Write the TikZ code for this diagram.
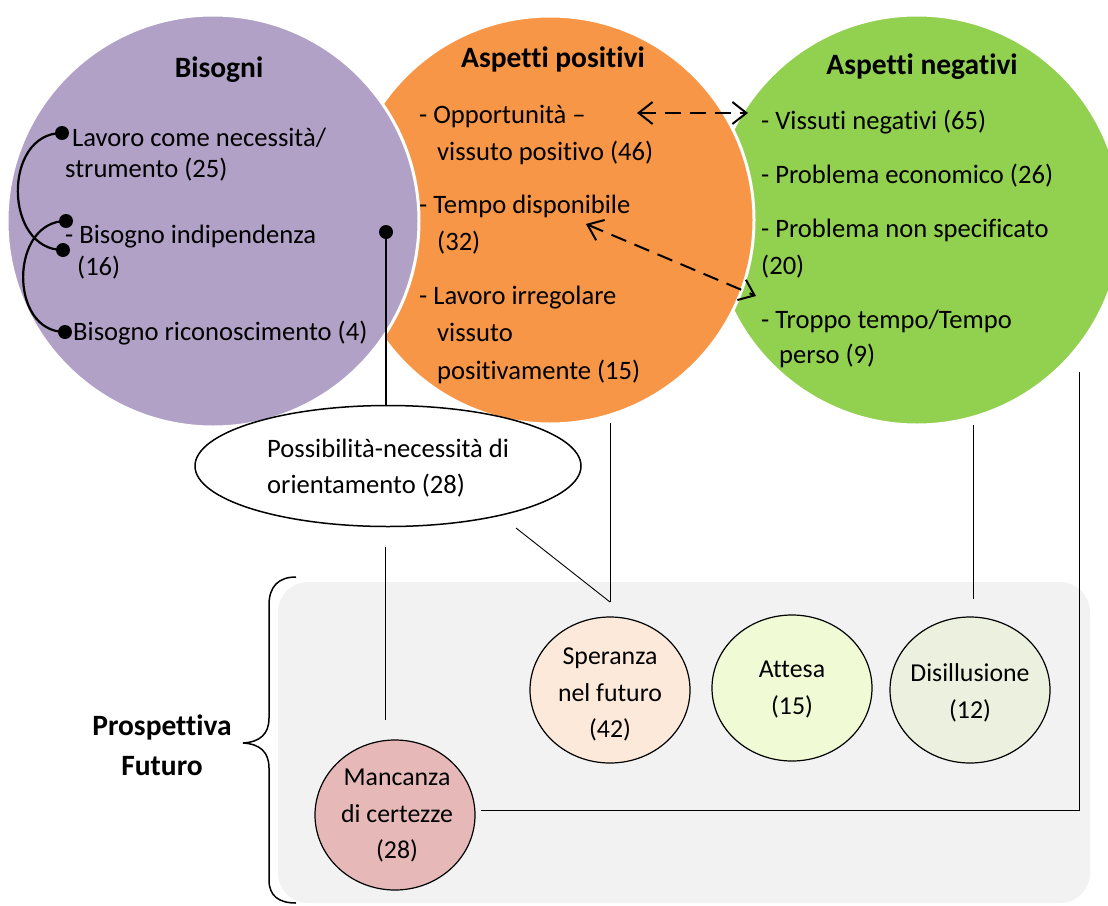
\documentclass[tikz,border=0pt]{standalone}
\usepackage{fontspec}
\setmainfont{Carlito}[Ligatures=NoCommon]
\usetikzlibrary{arrows.meta,shapes.geometric}
\definecolor{purp}{HTML}{B2A1C7}
\definecolor{oran}{HTML}{F79646}
\definecolor{gree}{HTML}{92D050}
\definecolor{boxgray}{HTML}{F2F2F2}
\definecolor{spe}{HTML}{FDE9D9}
\definecolor{att}{HTML}{F0FAD4}
\definecolor{dis}{HTML}{EBF1DE}
\definecolor{man}{HTML}{E6B9B8}
\tikzset{
  bigc/.style={circle, draw=white, line width=3pt, inner sep=0pt},
  ln/.style={anchor=base west, inner sep=0pt},
  ttl/.style={anchor=base, inner sep=0pt, font=\fontsize{29.5}{32}\selectfont\bfseries},
  fut/.style={ellipse, draw=black, line width=1.2pt, inner sep=0pt},
  ftx/.style={anchor=base, inner sep=0pt, font=\fontsize{25.8}{30}\selectfont},
  thin/.style={line width=0.9pt},
  dotc/.style={circle, fill=black, inner sep=0pt, minimum size=14pt},
  dashar/.style={line width=2pt, dash pattern=on 16pt off 9pt, {Straight Barb[length=14pt,width=22pt,line width=2pt]}-{Straight Barb[length=14pt,width=22pt,line width=2pt]}}
}
\begin{document}
\begin{tikzpicture}[x=1pt,y=-1pt, font=\fontsize{26.6}{30}\selectfont]
\useasboundingbox (0,0) rectangle (1108,905);
\clip (0,0) rectangle (1108,905);
% big circles
\node[bigc, fill=gree, minimum size=410pt] (neg) at (917,220) {};
\node[bigc, fill=oran, minimum size=408pt] (pos) at (550,220) {};
\node[bigc, fill=purp, minimum size=412pt] (bis) at (213,221) {};
% titles
\node[ttl] (tbis) at (219,77) {Bisogni};
\node[ttl] (tpos) at (553,67) {Aspetti positivi};
\node[ttl] (tneg) at (922,74) {Aspetti negativi};
% Bisogni items
\node[ln] (b1a) at (72,146) {Lavoro come necessità/};
\node[ln] (b1b) at (65,177) {strumento (25)};
\node[ln] (b2a) at (65,243) {- Bisogno indipendenza};
\node[ln] (b2b) at (77,275) {(16)};
\node[ln] (b3) at (73,340) {Bisogno riconoscimento (4)};
\node[dotc] (d1) at (62,133) {};
\node[dotc] (d2) at (66,221) {};
\node[dotc] (d3) at (63,250) {};
\node[dotc] (d4) at (65,332) {};
\draw[line width=2.2pt] (d1.center) to[out=180,in=180,looseness=1.3] (d3.center);
\draw[line width=2.2pt] (d2.center) to[out=180,in=180,looseness=1.3] (d4.center);
% Aspetti positivi items
\node[ln] (p1a) at (419,123) {- Opportunità –};
\node[ln] (p1b) at (437,160) {vissuto positivo (46)};
\node[ln] (p2a) at (419,213) {- Tempo disponibile};
\node[ln] (p2b) at (437,250) {(32)};
\node[ln] (p3a) at (419,304) {- Lavoro irregolare};
\node[ln] (p3b) at (437,341) {vissuto};
\node[ln] (p3c) at (437,379) {positivamente (15)};
% Aspetti negativi items
\node[ln] (n1) at (761,129) {- Vissuti negativi (65)};
\node[ln] (n2) at (761,183) {- Problema economico (26)};
\node[ln] (n3a) at (761,237) {- Problema non specificato};
\node[ln] (n3b) at (761,274) {(20)};
\node[ln] (n4a) at (761,328) {- Troppo tempo/Tempo};
\node[ln] (n4b) at (779,363) {perso (9)};
% dashed arrows
\coordinate (a1l) at (637,113);
\coordinate (a1r) at (748,113);
\coordinate (a2l) at (586,224);
\coordinate (a2r) at (756,296);
\draw[dashar] (a1l) -- (a1r);
\draw[dashar] (a2l) -- (a2r);
% gray box and brace
\fill[boxgray, rounded corners=30pt] (278,582) rectangle (1090,903);
\draw[line width=1.5pt] (296,577) .. controls (279,577) and (269,586) .. (269,605) -- (269,718) .. controls (269,734) and (260,742) .. (243,743) .. controls (260,744) and (269,752) .. (269,768) -- (269,880) .. controls (269,896) and (279,903) .. (296,903);
\node[ttl] (pf1) at (162,735) {Prospettiva};
\node[ttl] (pf2) at (162,775) {Futuro};
% orientation ellipse
\node[ellipse, draw=black, fill=white, line width=1.5pt, minimum width=386pt, minimum height=121pt] (ori) at (388,466) {};
\node[ln] (o1) at (267,457) {Possibilità-necessità di};
\node[ln] (o2) at (267,493) {orientamento (28)};
\node[dotc] (d5) at (386,232) {};
\draw[line width=2.2pt] (d5.center) -- (ori.north -| d5);
% future ellipses
\node[fut, fill=spe, minimum width=160pt, minimum height=146pt] (spe) at (610,690) {};
\node[ftx] (spe1) at (610,664) {Speranza};
\node[ftx] (spe2) at (610,701) {nel futuro};
\node[ftx] (spe3) at (610,737) {(42)};
\node[fut, fill=att, minimum width=160pt, minimum height=146pt] (att) at (792,688) {};
\node[ftx] (att1) at (792,677) {Attesa};
\node[ftx] (att2) at (792,714) {(15)};
\node[fut, fill=dis, minimum width=160pt, minimum height=146pt] (dis) at (970,690) {};
\node[ftx] (dis1) at (970,681) {Disillusione};
\node[ftx] (dis2) at (970,718) {(12)};
\node[fut, fill=man, minimum width=160pt, minimum height=150pt] (man) at (395,815) {};
\node[ftx] (man1) at (397,785) {Mancanza};
\node[ftx] (man2) at (397,822) {di certezze};
\node[ftx] (man3) at (397,858) {(28)};
% thin connectors
\coordinate (j1) at (610,602);
\coordinate (ps) at (610,423);
\coordinate (os) at (516,528);
\draw[thin] (ps) -- (j1);
\draw[thin] (os) -- (j1);
\coordinate (ob) at (385,547);
\coordinate (me) at (385,720);
\draw[thin] (ob) -- (me);
\coordinate (ns) at (973,425);
\coordinate (ne) at (973,599);
\draw[thin] (ns) -- (ne);
\coordinate (rs) at (1079,372);
\coordinate (rc) at (1079,810);
\coordinate (re) at (481,810);
\draw[thin] (rs) -- (rc) -- (re);
\end{tikzpicture}
\end{document}
